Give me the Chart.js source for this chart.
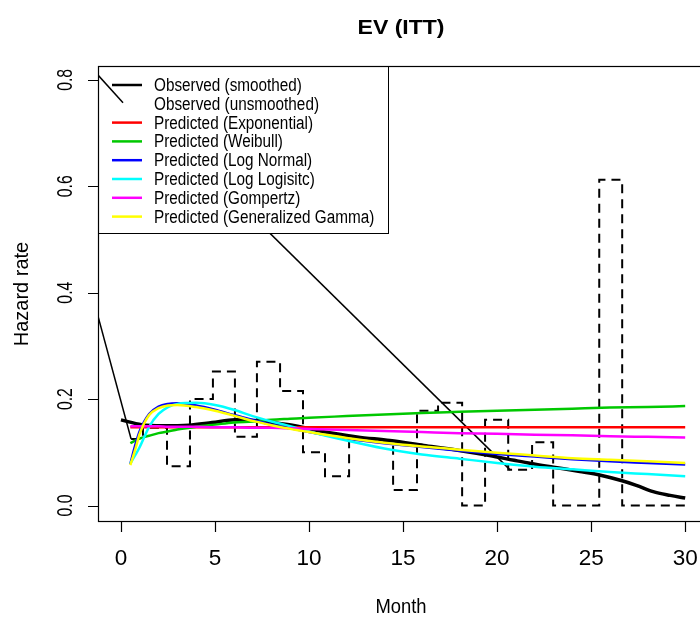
<!DOCTYPE html>
<html>
<head>
<meta charset="utf-8">
<title>EV (ITT)</title>
<script src="https://cdn.jsdelivr.net/npm/chart.js@4"></script>
<style>
html, body { margin: 0; padding: 0; background: #fff; overflow: hidden; }
#wrap { width: 710px; height: 618px; }
</style>
</head>
<body>
<div id="wrap"><canvas id="hazardChart" width="710" height="618"></canvas></div>
<script>
// Axis ticks
const xTicks = [0, 5, 10, 15, 20, 25, 30];
const yTicks = [0, 0.2, 0.4, 0.6, 0.8];
const yTickLabels = ['0.0', '0.2', '0.4', '0.6', '0.8'];

// Observed (smoothed)
const smoothMonths = [0, 1.1, 2.2, 3.6, 4.85, 6.06, 7.1, 8.2, 9.25, 10.7, 12.55, 14.3, 16.1, 17.9, 19.6, 20.9, 21.8, 23, 24.4, 25.5, 26.6, 27.4, 28.3, 29.2, 30];
const smoothHazard = [0.161, 0.152, 0.150, 0.151, 0.156, 0.161, 0.160, 0.155, 0.150, 0.139, 0.129, 0.122, 0.113, 0.104, 0.094, 0.085, 0.079, 0.072, 0.064, 0.057, 0.047, 0.038, 0.026, 0.019, 0.014];

// Observed (unsmoothed) - step values, each holds until the next month
const stepMonths = [0.54, 1.17, 2.45, 3.67, 4.89, 6.06, 7.23, 8.46, 9.68, 10.85, 12.13, 13.35, 14.47, 15.74, 16.86, 18.14, 19.36, 20.59, 21.86, 22.98, 25.43, 26.65, 30.16];
const stepHazard = [0.125, 0.146, 0.074, 0.200, 0.252, 0.129, 0.270, 0.215, 0.100, 0.055, 0.125, 0.121, 0.029, 0.178, 0.193, 0, 0.161, 0.067, 0.119, 0, 0.612, 0, 0];

// thin raw lines
const rawAMonths = [-1.22, 0.11];
const rawAHazard = [0.809, 0.757];
const rawBMonths = [-1.22, 20.69];
const rawBHazard = [0.830, 0.067];
const rawCMonths = [-1.22, 0.54];
const rawCHazard = [0.356, 0.125];

// Predicted curves
const predMonths = [0.5, 0.75, 1, 1.5, 2, 2.5, 3, 4, 5, 6, 7, 8, 9, 10, 12, 14, 16, 18, 20, 22, 24, 26, 28, 30];
const expHazard = [0.147, 0.147, 0.147, 0.147, 0.147, 0.147, 0.147, 0.147, 0.147, 0.147, 0.147, 0.147, 0.147, 0.147, 0.147, 0.147, 0.147, 0.147, 0.147, 0.147, 0.147, 0.147, 0.147, 0.147];
const weibullHazard = [0.117, 0.122, 0.126, 0.131, 0.136, 0.139, 0.143, 0.148, 0.152, 0.156, 0.158, 0.161, 0.163, 0.165, 0.168, 0.171, 0.174, 0.176, 0.178, 0.180, 0.182, 0.184, 0.185, 0.187];
const lognormHazard = [0.078, 0.112, 0.140, 0.172, 0.186, 0.191, 0.192, 0.188, 0.180, 0.170, 0.161, 0.152, 0.145, 0.138, 0.126, 0.117, 0.110, 0.103, 0.097, 0.092, 0.087, 0.083, 0.080, 0.077];
const loglogHazard = [0.079, 0.094, 0.110, 0.148, 0.172, 0.185, 0.191, 0.193, 0.189, 0.180, 0.168, 0.158, 0.149, 0.139, 0.122, 0.107, 0.096, 0.088, 0.080, 0.073, 0.068, 0.063, 0.059, 0.055];
const gompertzHazard = [0.149, 0.149, 0.149, 0.149, 0.149, 0.148, 0.148, 0.148, 0.147, 0.147, 0.146, 0.146, 0.145, 0.144, 0.142, 0.140, 0.138, 0.136, 0.135, 0.133, 0.132, 0.130, 0.129, 0.128];
const gengammaHazard = [0.076, 0.104, 0.135, 0.170, 0.183, 0.188, 0.189, 0.185, 0.178, 0.169, 0.159, 0.151, 0.144, 0.138, 0.127, 0.118, 0.111, 0.105, 0.099, 0.094, 0.089, 0.086, 0.083, 0.080];

const legendLabels = ['Observed (smoothed)', 'Observed (unsmoothed)', 'Predicted (Exponential)', 'Predicted (Weibull)',
    'Predicted (Log Normal)', 'Predicted (Log Logisitc)', 'Predicted (Gompertz)', 'Predicted (Generalized Gamma)'];
const legendColors = ['#000000', null, '#ff0000', '#00c800', '#0000ff', '#00ffff', '#ff00ff', '#ffff00'];

function pts(xs, ys) {
    return xs.map((x, i) => ({ x: x, y: ys[i] }));
}

// draw order bottom -> top
const series = [
    { id: 'rawB', data: pts(rawBMonths, rawBHazard), color: '#000', width: 1.5 },
    { id: 'rawC', data: pts(rawCMonths, rawCHazard), color: '#000', width: 1.5 },
    { id: 'smooth', data: pts(smoothMonths, smoothHazard), color: '#000', width: 3.5, curve: true },
    { id: 'step', data: pts(stepMonths, stepHazard), color: '#000', width: 2, dash: [9, 6], stepped: 'before' },
    { id: 'exp', data: pts(predMonths, expHazard), color: legendColors[2], width: 2.5, curve: true },
    { id: 'weibull', data: pts(predMonths, weibullHazard), color: legendColors[3], width: 2.5, curve: true },
    { id: 'lognorm', data: pts(predMonths, lognormHazard), color: legendColors[4], width: 2.5, curve: true },
    { id: 'loglog', data: pts(predMonths, loglogHazard), color: legendColors[5], width: 2.5, curve: true },
    { id: 'gompertz', data: pts(predMonths, gompertzHazard), color: legendColors[6], width: 2.5, curve: true },
    { id: 'gengamma', data: pts(predMonths, gengammaHazard), color: legendColors[7], width: 2.5, curve: true },
    { id: 'rawA', data: pts(rawAMonths, rawAHazard), color: '#000', width: 1.5 }
];

const datasets = series.map((s, i) => ({
    label: s.id,
    data: s.data,
    borderColor: s.color,
    borderWidth: s.width,
    borderDash: s.dash || [],
    stepped: s.stepped || false,
    cubicInterpolationMode: s.curve ? 'monotone' : 'default',
    pointRadius: 0,
    fill: false,
    order: 100 - i
}));

const FONT = '"Liberation Sans", Arial, Helvetica, sans-serif';

function drawText(ctx, s, x, y, size, o) {
    o = o || {};
    ctx.save();
    ctx.translate(x, y);
    if (o.rot) ctx.rotate(o.rot);
    ctx.scale(o.sx || 1, o.sy || 1);
    ctx.font = (o.bold ? 'bold ' : '') + size + 'px ' + FONT;
    ctx.textAlign = o.align || 'center';
    ctx.textBaseline = 'middle';
    ctx.fillStyle = '#000';
    ctx.fillText(s, 0, 0);
    ctx.restore();
}

// Legend box drawn right after the long raw line, so it covers it
const legendPlugin = {
    id: 'rLegend',
    afterDatasetDraw(chart, args) {
        if (chart.data.datasets[args.index].label !== 'rawB') return;
        const ctx = chart.ctx;
        const area = chart.chartArea;
        const left = area.left, top = area.top;
        ctx.save();
        ctx.fillStyle = '#fff';
        ctx.fillRect(left, top, 290, 168);
        ctx.strokeStyle = '#000';
        ctx.lineWidth = 1;
        ctx.strokeRect(left + 0.5, top + 0.5, 290, 167);
        legendLabels.forEach((lab, i) => {
            const y = top + 19 + i * 18.8;
            if (legendColors[i]) {
                ctx.beginPath();
                ctx.strokeStyle = legendColors[i];
                ctx.lineWidth = 2.5;
                ctx.moveTo(left + 14, y);
                ctx.lineTo(left + 44, y);
                ctx.stroke();
            }
            drawText(ctx, lab, left + 56, y + 1, 18, { align: 'left', sx: 0.85 });
        });
        ctx.restore();
    }
};

// Frame, axes, labels and title in R base-graphics style
const framePlugin = {
    id: 'rFrame',
    afterDraw(chart) {
        const ctx = chart.ctx;
        const area = chart.chartArea;
        const xs = chart.scales.x, ys = chart.scales.y;
        ctx.save();
        ctx.strokeStyle = '#000';
        ctx.lineWidth = 1.2;
        ctx.strokeRect(area.left + 0.5, area.top + 0.5, area.right - area.left, area.bottom - area.top - 1);

        // x axis
        ctx.beginPath();
        xTicks.forEach(t => {
            const px = Math.round(xs.getPixelForValue(t)) + 0.5;
            ctx.moveTo(px, area.bottom);
            ctx.lineTo(px, area.bottom + 10);
        });
        yTicks.forEach(t => {
            const py = Math.round(ys.getPixelForValue(t)) + 0.5;
            ctx.moveTo(area.left, py);
            ctx.lineTo(area.left - 10, py);
        });
        ctx.stroke();

        xTicks.forEach(t => {
            drawText(ctx, String(t), xs.getPixelForValue(t), area.bottom + 37, 22.5);
        });
        yTicks.forEach((t, i) => {
            drawText(ctx, yTickLabels[i], 66, ys.getPixelForValue(t), 22, { rot: -Math.PI / 2, sx: 0.72 });
        });

        const cx = (area.left + area.right) / 2;
        drawText(ctx, 'EV (ITT)', cx, 28, 20, { bold: true, sx: 1.15 });
        drawText(ctx, 'Month', cx, 607, 20, { sx: 0.92 });
        drawText(ctx, 'Hazard rate', 22, (area.top + area.bottom) / 2, 20, { rot: -Math.PI / 2 });
        ctx.restore();
    }
};

const ctx = document.getElementById('hazardChart').getContext('2d');
const hazardChart = new Chart(ctx, {
    type: 'line',
    data: { datasets: datasets },
    options: {
        responsive: false,
        animation: false,
        devicePixelRatio: 1,
        layout: { padding: { left: 98, top: 66, right: 6, bottom: 96 } },
        scales: {
            x: { type: 'linear', min: -1.22, max: 31.0, display: false },
            y: { type: 'linear', min: -0.031, max: 0.826, display: false }
        },
        plugins: {
            legend: { display: false },
            tooltip: { enabled: false }
        },
        elements: { line: { tension: 0 } }
    },
    plugins: [legendPlugin, framePlugin]
});
</script>
</body>
</html>
